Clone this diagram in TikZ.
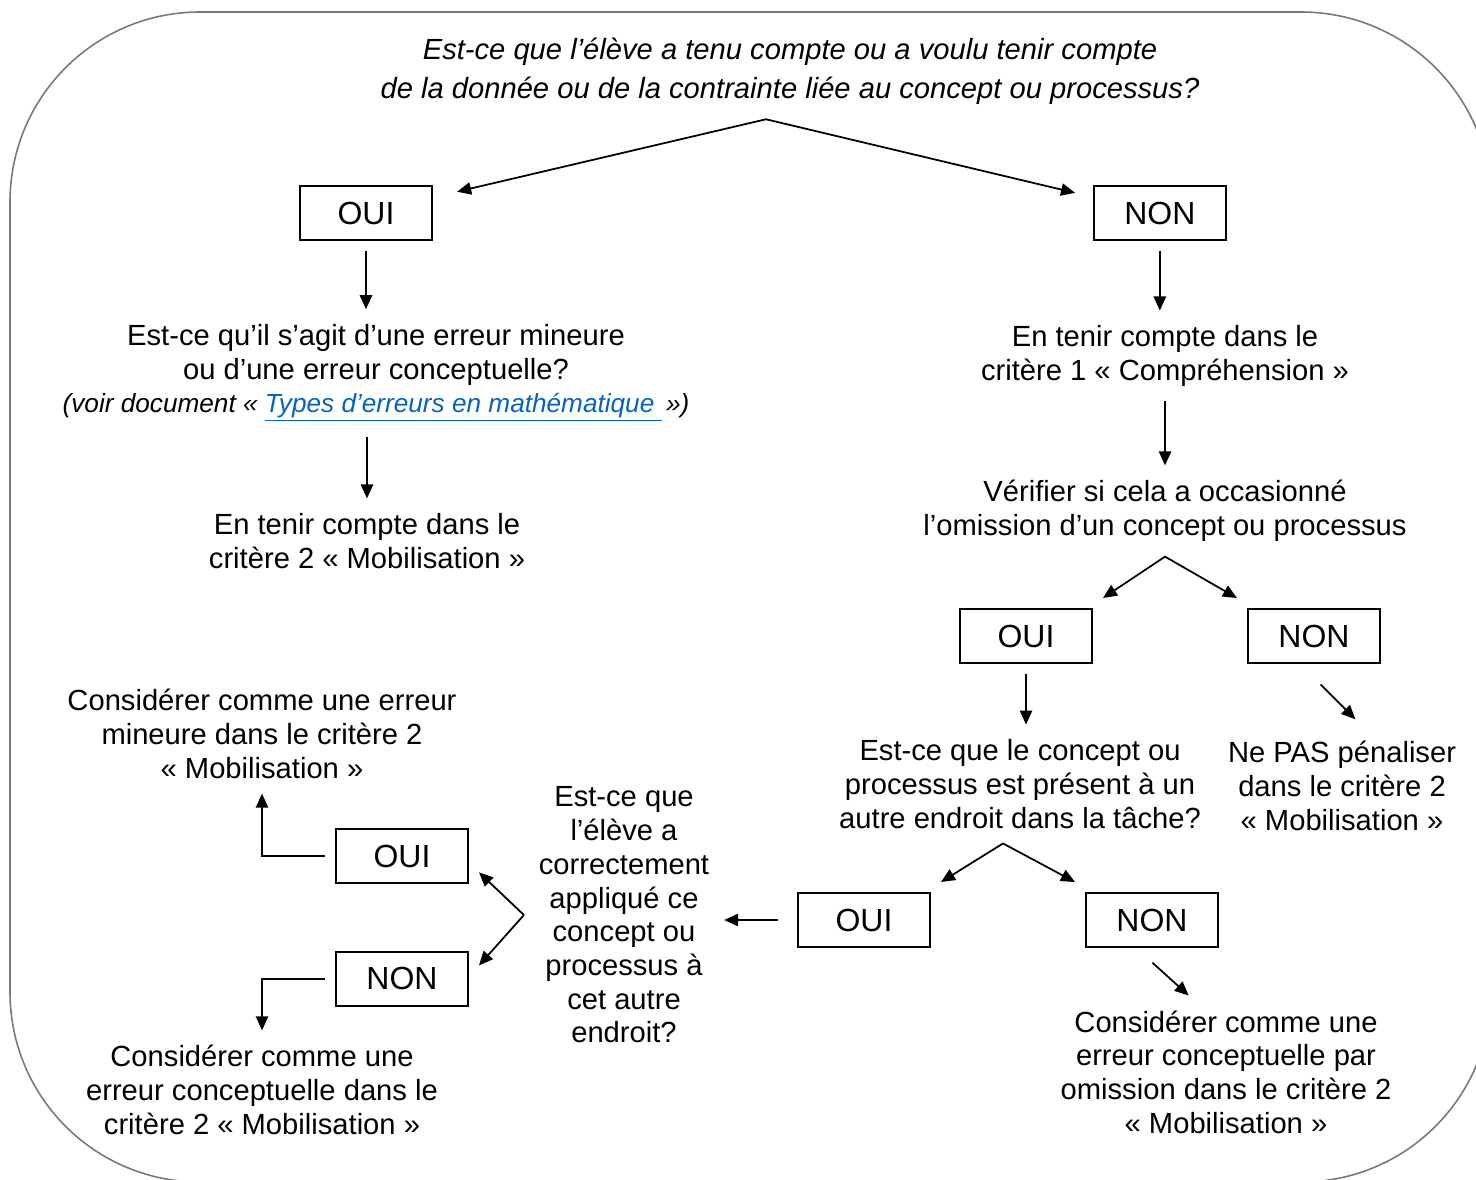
\documentclass[tikz,border=0pt]{standalone}
\usepackage{fontspec}
\setmainfont{Liberation Sans}
\usetikzlibrary{positioning,arrows.meta}
\definecolor{lien}{RGB}{5,99,193}
\definecolor{cadre}{RGB}{120,120,120}

\tikzset{
  txt/.style={align=center, font=\fontsize{16.6}{19.2}\selectfont, inner sep=0pt, outer sep=0.3cm},
  box/.style={draw, line width=1pt, minimum width=2.64cm, minimum height=1.08cm,
    font=\fontsize{18.2}{20}\selectfont, outer sep=0.22cm},
  arr/.style={-{Triangle[length=8pt,width=7pt]}, line width=1pt},
}

\begin{document}
\begin{tikzpicture}[x=0.02cm, y=-0.02cm]
\useasboundingbox (0,0) rectangle (1476,1179);
\draw[cadre, line width=0.9pt, rounded corners=3.8cm] (10,12) rectangle (1491,1182);

\node (q) [txt, font=\fontsize{16.6}{22.2}\selectfont\itshape] at (790,71)
  {Est-ce que l’élève a tenu compte ou a voulu tenir compte\\de la donnée ou de la contrainte liée au concept ou processus?};
\coordinate (qs) at ([xshift=-0.48cm]q.south);

% colonne OUI
\node (oui1) [box] at (366,213) {OUI};
\node (qa) [txt] at (376,373) {Est-ce qu’il s’agit d’une erreur mineure\\ou d’une erreur conceptuelle?\\
  {\fontsize{14.9}{19}\selectfont\itshape (voir document « \textcolor{lien}{\underline{Types d’erreurs en mathématique\ }}\,»)}};
\node (ra) [txt] at (367,541) {En tenir compte dans le\\critère 2 «~Mobilisation~»};

% colonne NON
\node (non1) [box, right=12.8cm of oui1] {NON};
\node (rc) [txt] at (1165,356) {En tenir compte dans le\\critère 1 «~Compréhension~»};
\node (qd) [txt] at (1165,511) {Vérifier si cela a occasionné\\l’omission d’un concept ou processus};
\coordinate (ds) at (qd.south);
\node (oui2) [box] at (1026,636) {OUI};
\node (non2) [box, right=2.68cm of oui2] {NON};
\node (qe) [txt] at (1020,784) {Est-ce que le concept ou\\processus est présent à un\\autre endroit dans la tâche?};
\coordinate (es) at ([xshift=-0.34cm]qe.south);
\node (rf) [txt] at (1342,786) {Ne PAS pénaliser\\dans le critère 2\\«~Mobilisation~»};
\node (oui3) [box] at (864,920) {OUI};
\node (non3) [box, right=2.68cm of oui3] {NON};
\node (rg) [txt] at (1226,1072) {Considérer comme une\\erreur conceptuelle par\\omission dans le critère 2\\«~Mobilisation~»};

% retour vers la gauche
\node (qh) [txt] at (624,915) {Est-ce que\\l’élève a\\correctement\\appliqué ce\\concept ou\\processus à\\cet autre\\endroit?};
\node (oui4) [box] at (402,856) {OUI};
\node (non4) [box, below=0.94cm of oui4] {NON};
\node (ri) [txt] at (262,734) {Considérer comme une erreur\\mineure dans le critère 2\\«~Mobilisation~»};
\node (rj) [txt] at (262,1090) {Considérer comme une\\erreur conceptuelle dans le\\critère 2 «~Mobilisation~»};

\draw[arr, shorten >=0.29cm] (qs) -- (oui1);
\draw[arr, shorten >=0.16cm] (qs) -- (non1);
\draw[arr] (oui1.south) -- (oui1.south |- qa.north);
\draw[arr] (ra.north |- qa.south) -- (ra.north);
\draw[arr] (non1.south) -- (non1.south |- rc.north);
\draw[arr] (rc.south) -- (qd.north);
\draw[arr] (ds) -- (oui2.north east);
\draw[arr] (ds) -- (non2.north west);
\draw[arr] (oui2.south) -- (oui2.south |- qe.north);
\draw[arr, shorten <=0.3cm, shorten >=0.2cm] (non2.-96) -- (rf.71);
\draw[arr] (es) -- (oui3.north east);
\draw[arr] (es) -- (non3.north west);
\draw[arr, shorten <=0.14cm] (non3.-97) -- (rg.116);
\draw[arr, shorten <=0.18cm] (oui3.west) -- (oui3.west -| qh.east);
\draw[arr] (qh.west) -- (oui4.-12);
\draw[arr] (qh.west) -- (non4.10);
\draw[arr] (oui4.west) -| (ri.south);
\draw[arr] (non4.west) -| (rj.north);
\end{tikzpicture}
\end{document}
